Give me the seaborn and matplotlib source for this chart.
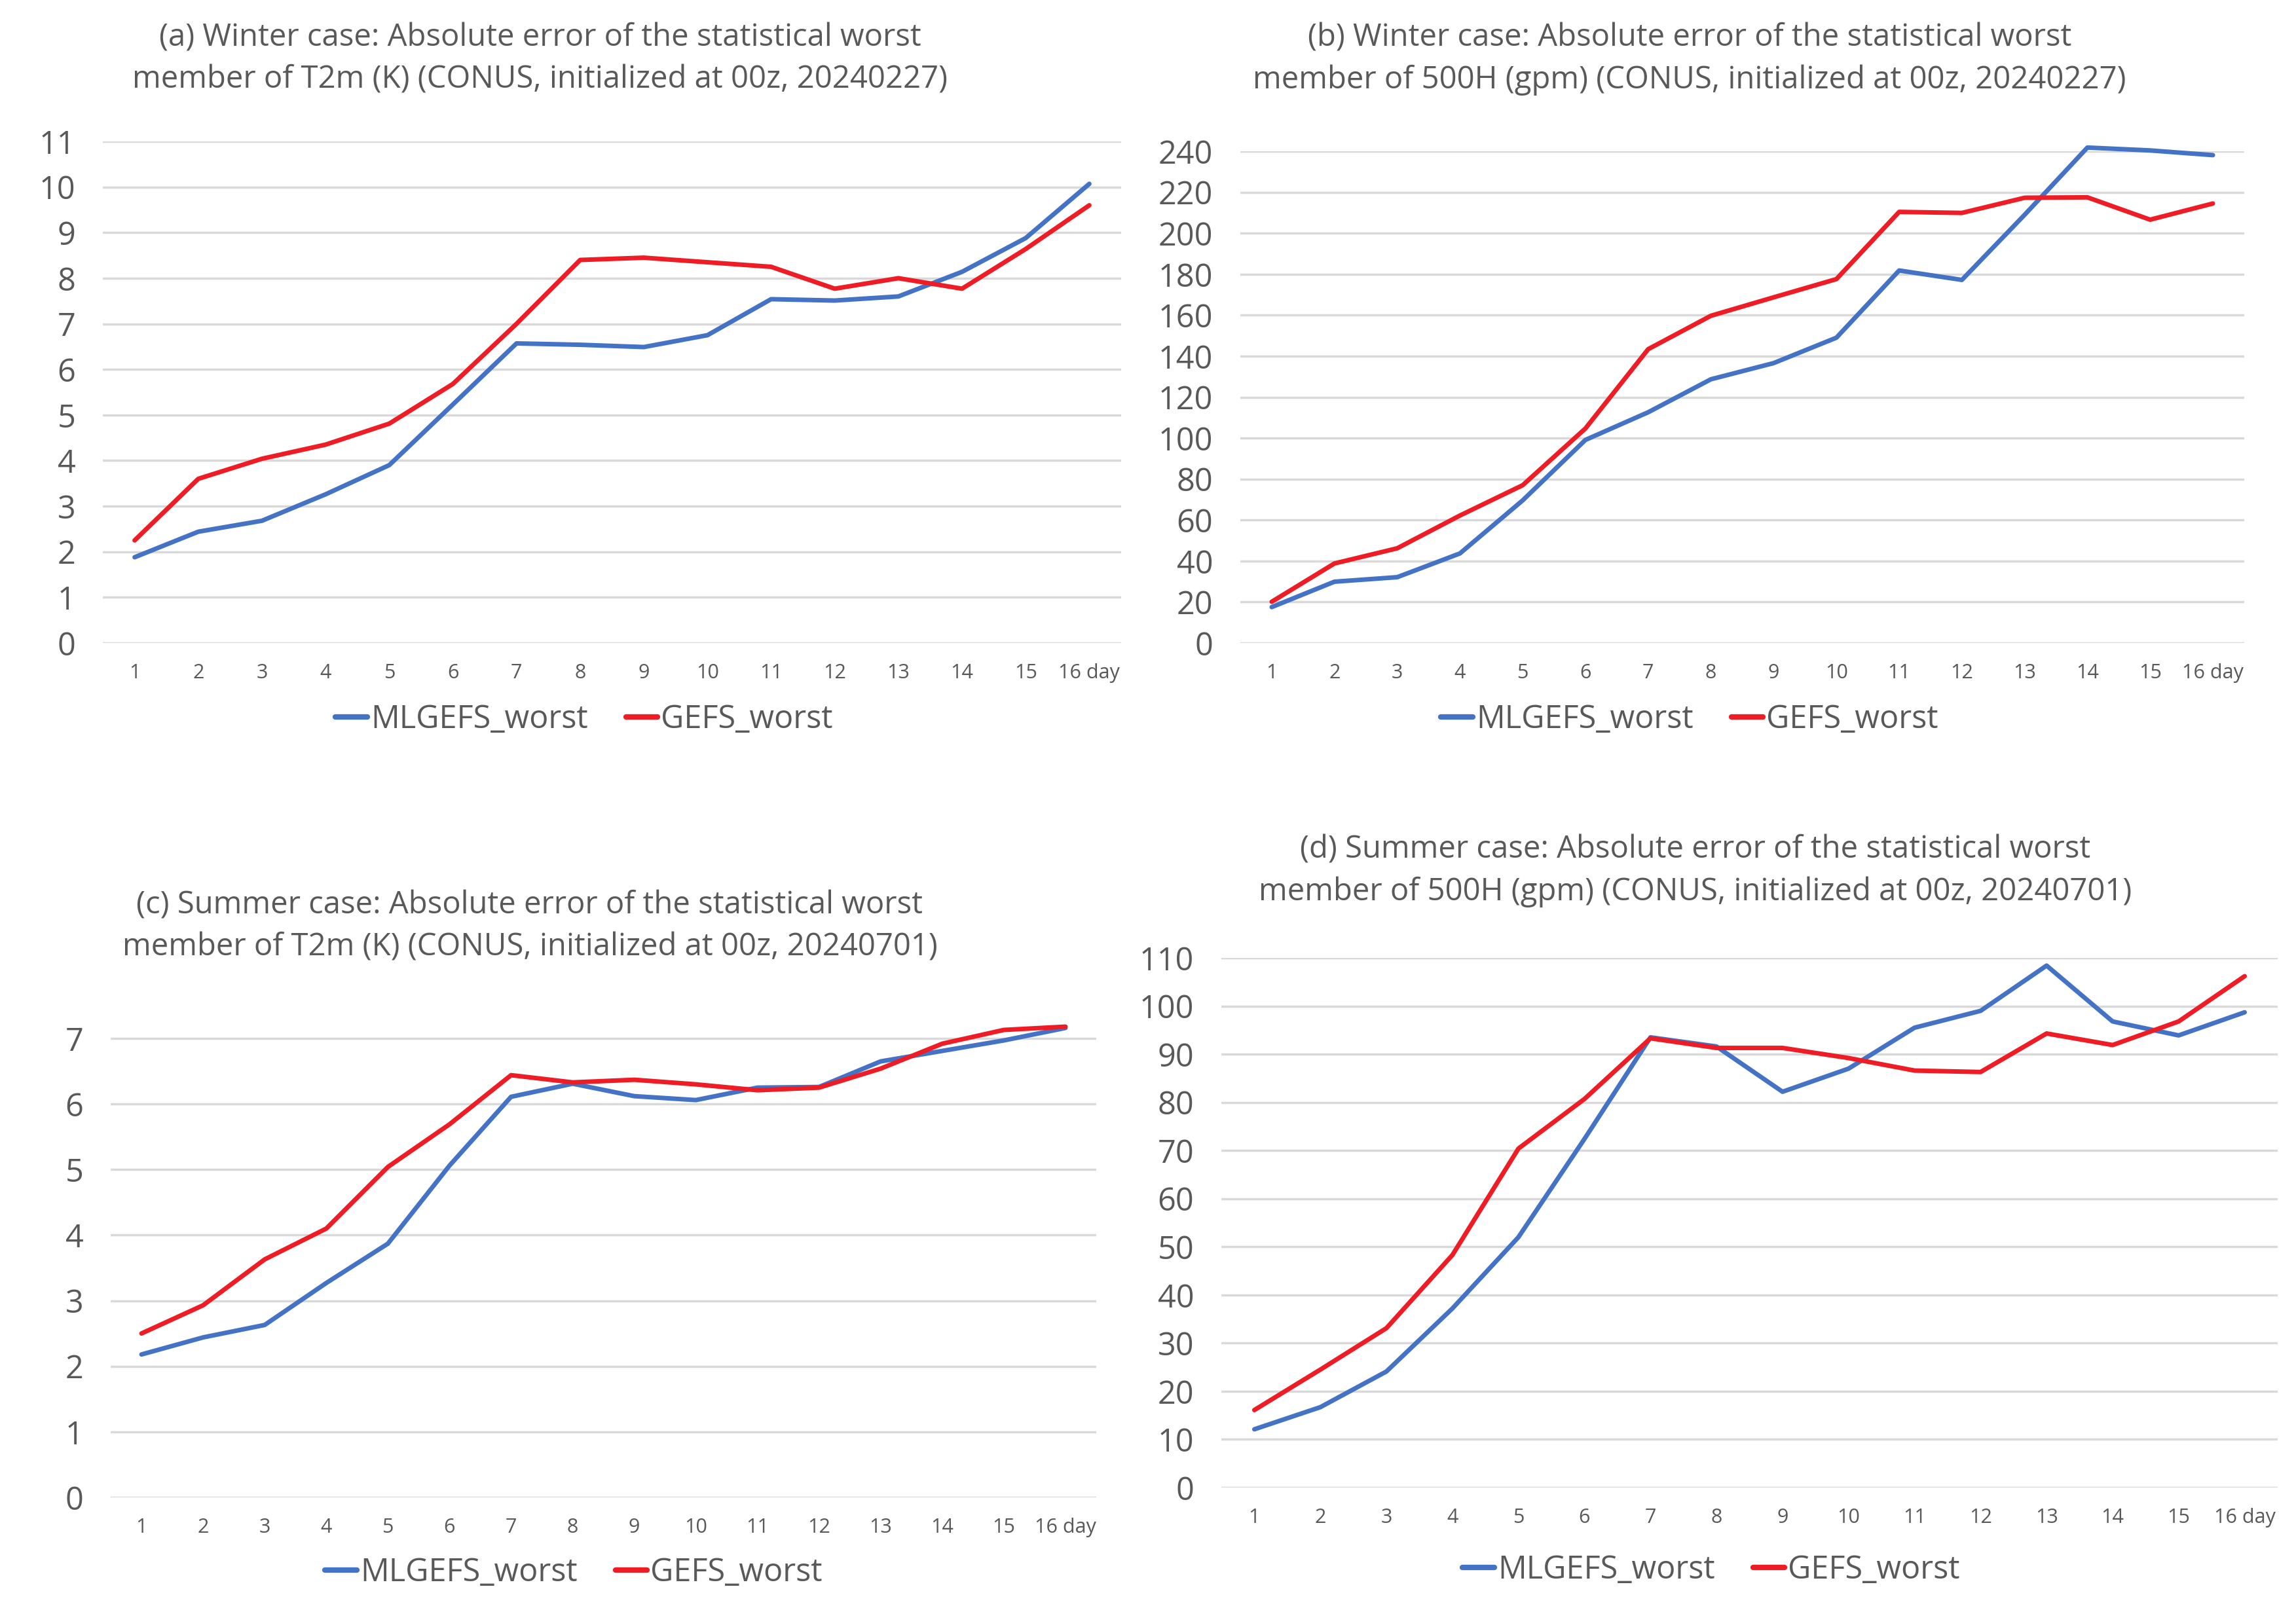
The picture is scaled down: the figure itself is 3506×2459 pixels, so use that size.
import numpy as np
import pandas as pd
import seaborn as sns
import matplotlib.pyplot as plt

# Forecast days and tick labels
days = list(range(1, 17))
day_labels = [str(d) for d in range(1, 16)] + ["16 day"]

# (a) Winter T2m (K)
a_mlgefs = [1.88, 2.44, 2.68, 3.26, 3.90, 5.23, 6.57, 6.54, 6.49, 6.75, 7.54, 7.51, 7.60, 8.14, 8.88, 10.07]
a_gefs = [2.25, 3.60, 4.04, 4.35, 4.81, 5.68, 7.00, 8.40, 8.45, 8.35, 8.25, 7.77, 8.00, 7.77, 8.64, 9.60]

# (b) Winter 500H (gpm)
b_mlgefs = [17.5, 29.9, 32.1, 43.7, 69.6, 99.1, 112.6, 128.7, 136.6, 149.0, 181.8, 177.2, 209.0, 241.8, 240.4, 238.1]
b_gefs = [20.1, 38.8, 46.2, 62.2, 77.0, 104.7, 143.4, 159.7, 168.7, 177.6, 210.4, 209.9, 217.3, 217.5, 206.6, 214.5]

# (c) Summer T2m (K)
c_mlgefs = [2.18, 2.44, 2.63, 3.27, 3.87, 5.06, 6.11, 6.31, 6.12, 6.06, 6.25, 6.26, 6.65, 6.81, 6.97, 7.16]
c_gefs = [2.50, 2.93, 3.63, 4.10, 5.04, 5.69, 6.44, 6.33, 6.37, 6.30, 6.21, 6.25, 6.54, 6.92, 7.13, 7.18]

# (d) Summer 500H (gpm)
d_mlgefs = [12.1, 16.7, 24.1, 37.2, 52.0, 72.4, 93.5, 91.6, 82.2, 87.0, 95.5, 99.0, 108.4, 96.8, 93.9, 98.7]
d_gefs = [16.1, 24.5, 33.1, 48.3, 70.4, 80.7, 93.3, 91.3, 91.3, 89.2, 86.6, 86.3, 94.3, 91.9, 96.8, 106.2]

titles = [
    "(a) Winter case: Absolute error of the statistical worst\nmember of T2m (K) (CONUS, initialized at 00z, 20240227)",
    "(b) Winter case: Absolute error of the statistical worst\nmember of 500H (gpm) (CONUS, initialized at 00z, 20240227)",
    "(c) Summer case: Absolute error of the statistical worst\nmember of T2m (K) (CONUS, initialized at 00z, 20240701)",
    "(d) Summer case: Absolute error of the statistical worst\nmember of 500H (gpm) (CONUS, initialized at 00z, 20240701)",
]

sns.set_style("white")
plt.rcParams['font.family'] = ['Open Sans', 'DejaVu Sans']

W, H = 3506, 2459
fig = plt.figure(figsize=(W / 100, H / 100), dpi=100)
palette = {"MLGEFS_worst": "#4472C4", "GEFS_worst": "#EE1C25"}
grey = "#595959"

# panel layout in pixels: left, right, top, bottom, ylim top, yticks, title centre, legend centre
panels = [
    (a_mlgefs, a_gefs, 157, 1712, 216, 982, 11, range(0, 12), (825, 90), (892, 1099)),
    (b_mlgefs, b_gefs, 1894, 3427, 231, 982, 240, range(0, 241, 20), (2580, 90), (2580, 1099)),
    (c_mlgefs, c_gefs, 169, 1674, 1546, 2287, 7.4, range(0, 8), (809, 1415), (876, 2402)),
    (d_mlgefs, d_gefs, 1865, 3478, 1463, 2272, 110, range(0, 111, 10), (2589, 1330), (2613, 2398)),
]

for (ml, gf, l, r, t, b, ytop, yt, tpos, lpos), title in zip(panels, titles):
    ax = fig.add_axes([l / W, 1 - b / H, (r - l) / W, (b - t) / H])
    df = pd.DataFrame({
        "day": days * 2,
        "value": ml + gf,
        "series": ["MLGEFS_worst"] * 16 + ["GEFS_worst"] * 16,
    })
    sns.lineplot(data=df, x="day", y="value", hue="series", palette=palette,
                 linewidth=5, ax=ax, legend=False, clip_on=False)
    ax.set_xlim(0.5, 16.5)
    ax.set_ylim(0, ytop)
    ax.set_yticks(list(yt))
    ax.set_xticks(days)
    ax.set_xticklabels(day_labels)
    ax.set_xlabel("")
    ax.set_ylabel("")
    ax.yaxis.grid(True, color="#d9d9d9", linewidth=2.5)
    ax.xaxis.grid(False)
    ax.set_axisbelow(True)
    for s in ax.spines.values():
        s.set_visible(False)
    ax.tick_params(axis="y", length=0, pad=30, labelsize=35, labelcolor=grey)
    ax.tick_params(axis="x", length=0, pad=22, labelsize=22, labelcolor=grey)

    fig.text(tpos[0] / W, 1 - tpos[1] / H, title, ha="center", va="center",
             fontsize=34, color=grey, linespacing=1.45)

    handles = [plt.Line2D([], [], color=palette[k], linewidth=6) for k in palette]
    ax.legend(handles, list(palette), loc="center", ncol=2, frameon=False,
              bbox_to_anchor=(lpos[0] / W, 1 - lpos[1] / H), bbox_transform=fig.transFigure,
              fontsize=35, handlelength=1.0, handletextpad=0.1, columnspacing=1.2,
              labelcolor=grey)

fig.savefig("out.png", dpi=100, facecolor="white")
